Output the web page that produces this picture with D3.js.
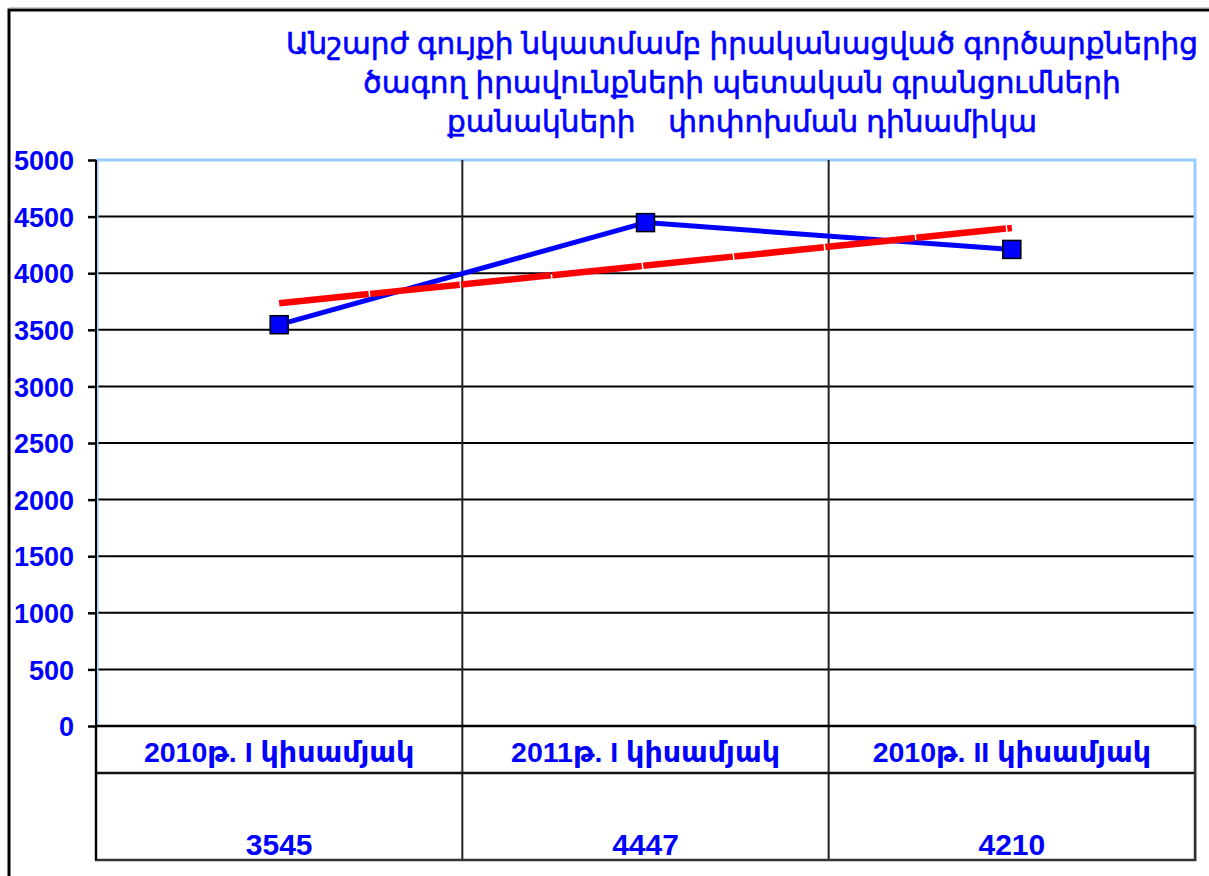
<!DOCTYPE html>
<html>
<head>
<meta charset="utf-8">
<script src="https://cdn.jsdelivr.net/npm/d3@7"></script>
<style>
  html, body { margin: 0; padding: 0; background: #fff; }
  svg { display: block; }
</style>
</head>
<body>
<svg id="chart"></svg>
<script>
const titleLines = [
  "Անշարժ գույքի նկատմամբ իրականացված գործարքներից",
  "ծագող իրավունքների պետական գրանցումների",
  "քանակների    փոփոխման դինամիկա"
];
const categories = ["2010թ. I կիսամյակ", "2011թ. I կիսամյակ", "2010թ. II կիսամյակ"];
const values = [3545, 4447, 4210];
const yTicks = [0, 500, 1000, 1500, 2000, 2500, 3000, 3500, 4000, 4500, 5000];

const width = 1209, height = 876;
const margin = { top: 160, right: 14, bottom: 150, left: 96 };
const blue = "#0000FF";
const font = "'Liberation Sans', Arial, 'DejaVu Sans', sans-serif";

const svg = d3.select("#chart")
  .attr("width", width)
  .attr("height", height)
  .style("font-family", font);

const x = d3.scaleBand()
  .domain(categories)
  .range([margin.left, width - margin.right]);

const y = d3.scaleLinear()
  .domain([0, 5000])
  .range([height - margin.bottom, margin.top]);

const plotBottom = y(0);
const tableMid = plotBottom + 47;
const tableBottom = 860;

// outer frame (runs off the right/bottom edges)
svg.append("rect")
  .attr("x", 9).attr("y", 10)
  .attr("width", width + 20).attr("height", height + 20)
  .attr("fill", "none").attr("stroke", "#000").attr("stroke-width", 3);
svg.append("line")
  .attr("x1", 9).attr("x2", width).attr("y1", 8).attr("y2", 8)
  .attr("stroke", "#999").attr("stroke-width", 1);

// horizontal gridlines
svg.append("g")
  .selectAll("line")
  .data(yTicks.filter(d => d > 0 && d < 5000))
  .join("line")
  .attr("x1", margin.left).attr("x2", x.range()[1])
  .attr("y1", d => y(d)).attr("y2", d => y(d))
  .attr("stroke", "#000").attr("stroke-width", 2);

// plot area border (light blue)
svg.append("path")
  .attr("d", `M${margin.left + 1},${plotBottom} V${y(5000)} H${x.range()[1]} V${plotBottom}`)
  .attr("fill", "none").attr("stroke", "#99CCFF").attr("stroke-width", 3);

// vertical category separators, through the data table
svg.append("g")
  .selectAll("line")
  .data(categories.slice(1))
  .join("line")
  .attr("x1", d => x(d)).attr("x2", d => x(d))
  .attr("y1", y(5000)).attr("y2", tableBottom)
  .attr("stroke", "#222").attr("stroke-width", 2);

// data table lines
const table = svg.append("g").attr("stroke", "#111").attr("fill", "none");
table.append("line")
  .attr("x1", margin.left).attr("x2", x.range()[1])
  .attr("y1", tableMid).attr("y2", tableMid).attr("stroke-width", 2.5);
table.append("path")
  .attr("d", `M${margin.left},${plotBottom} V${tableBottom} H${x.range()[1]} V${plotBottom}`)
  .attr("stroke", "#333").attr("stroke-width", 2.5);
table.append("line")
  .attr("x1", x.range()[1] + 1.5).attr("x2", x.range()[1] + 1.5)
  .attr("y1", plotBottom).attr("y2", tableBottom + 1)
  .attr("stroke", "#999").attr("stroke-width", 1);

// y axis
const yAxis = svg.append("g")
  .attr("transform", `translate(${margin.left},0)`)
  .call(d3.axisLeft(y).tickValues(yTicks).tickFormat(d3.format("d"))
    .tickSize(8).tickPadding(14).tickSizeOuter(0))
  .call(g => g.select(".domain").attr("stroke", "#000").attr("stroke-width", 2)
    .attr("d", `M0,${y(5000)} V${tableBottom}`));
yAxis.selectAll(".tick line").attr("stroke", "#000").attr("stroke-width", 2.5);
yAxis.selectAll(".tick text")
  .attr("fill", blue)
  .attr("dy", "0.36em")
  .style("font-family", font)
  .style("font-size", "27px")
  .style("font-weight", "bold");

// x axis line at 0
svg.append("line")
  .attr("x1", margin.left).attr("x2", x.range()[1])
  .attr("y1", plotBottom).attr("y2", plotBottom)
  .attr("stroke", "#000").attr("stroke-width", 2.5);

// table text: categories and values
svg.append("g")
  .selectAll("text")
  .data(categories)
  .join("text")
  .attr("x", d => x(d) + x.bandwidth() / 2)
  .attr("y", plotBottom + 36)
  .attr("text-anchor", "middle")
  .attr("fill", blue)
  .style("font-size", "28.5px")
  .style("font-weight", "bold")
  .text(d => d);

svg.append("g")
  .selectAll("text")
  .data(values)
  .join("text")
  .attr("x", (d, i) => x(categories[i]) + x.bandwidth() / 2)
  .attr("y", tableBottom - 5)
  .attr("text-anchor", "middle")
  .attr("fill", blue)
  .style("font-size", "30px")
  .style("font-weight", "bold")
  .text(d => d);

// series
const pts = values.map((v, i) => ({ cx: x(categories[i]) + x.bandwidth() / 2, v, i }));

// linear trend (least squares on category index)
const n = values.length;
const xs = values.map((v, i) => i + 1);
const mx = d3.mean(xs), my = d3.mean(values);
const slope = d3.sum(xs, (xi, i) => (xi - mx) * (values[i] - my)) / d3.sum(xs, xi => (xi - mx) ** 2);
const icpt = my - slope * mx;
const trend = [0, n - 1].map(i => ({ cx: pts[i].cx, v: icpt + slope * (i + 1) }));

const line = d3.line().x(d => d.cx).y(d => y(d.v));

svg.append("path")
  .datum(pts)
  .attr("d", line)
  .attr("fill", "none")
  .attr("stroke", blue)
  .attr("stroke-width", 5)
  .attr("stroke-linejoin", "round");

svg.append("path")
  .datum(trend)
  .attr("d", line)
  .attr("fill", "none")
  .attr("stroke", "#FF0000")
  .attr("stroke-width", 6.5)
  .attr("stroke-dasharray", "90 1.5");

svg.append("g")
  .selectAll("rect")
  .data(pts)
  .join("rect")
  .attr("x", d => d.cx - 9)
  .attr("y", d => y(d.v) - 9)
  .attr("width", 18).attr("height", 18)
  .attr("fill", blue)
  .attr("stroke", "#000")
  .attr("stroke-width", 1.5);

// title
svg.append("text")
  .attr("x", 742)
  .attr("text-anchor", "middle")
  .attr("fill", blue)
  .attr("stroke", blue)
  .attr("stroke-width", 0.6)
  .style("font-size", "29.5px")
  .style("white-space", "pre")
  .attr("xml:space", "preserve")
  .selectAll("tspan")
  .data(titleLines)
  .join("tspan")
  .attr("x", 742)
  .attr("y", (d, i) => 54 + i * 39)
  .text(d => d);
</script>
</body>
</html>
